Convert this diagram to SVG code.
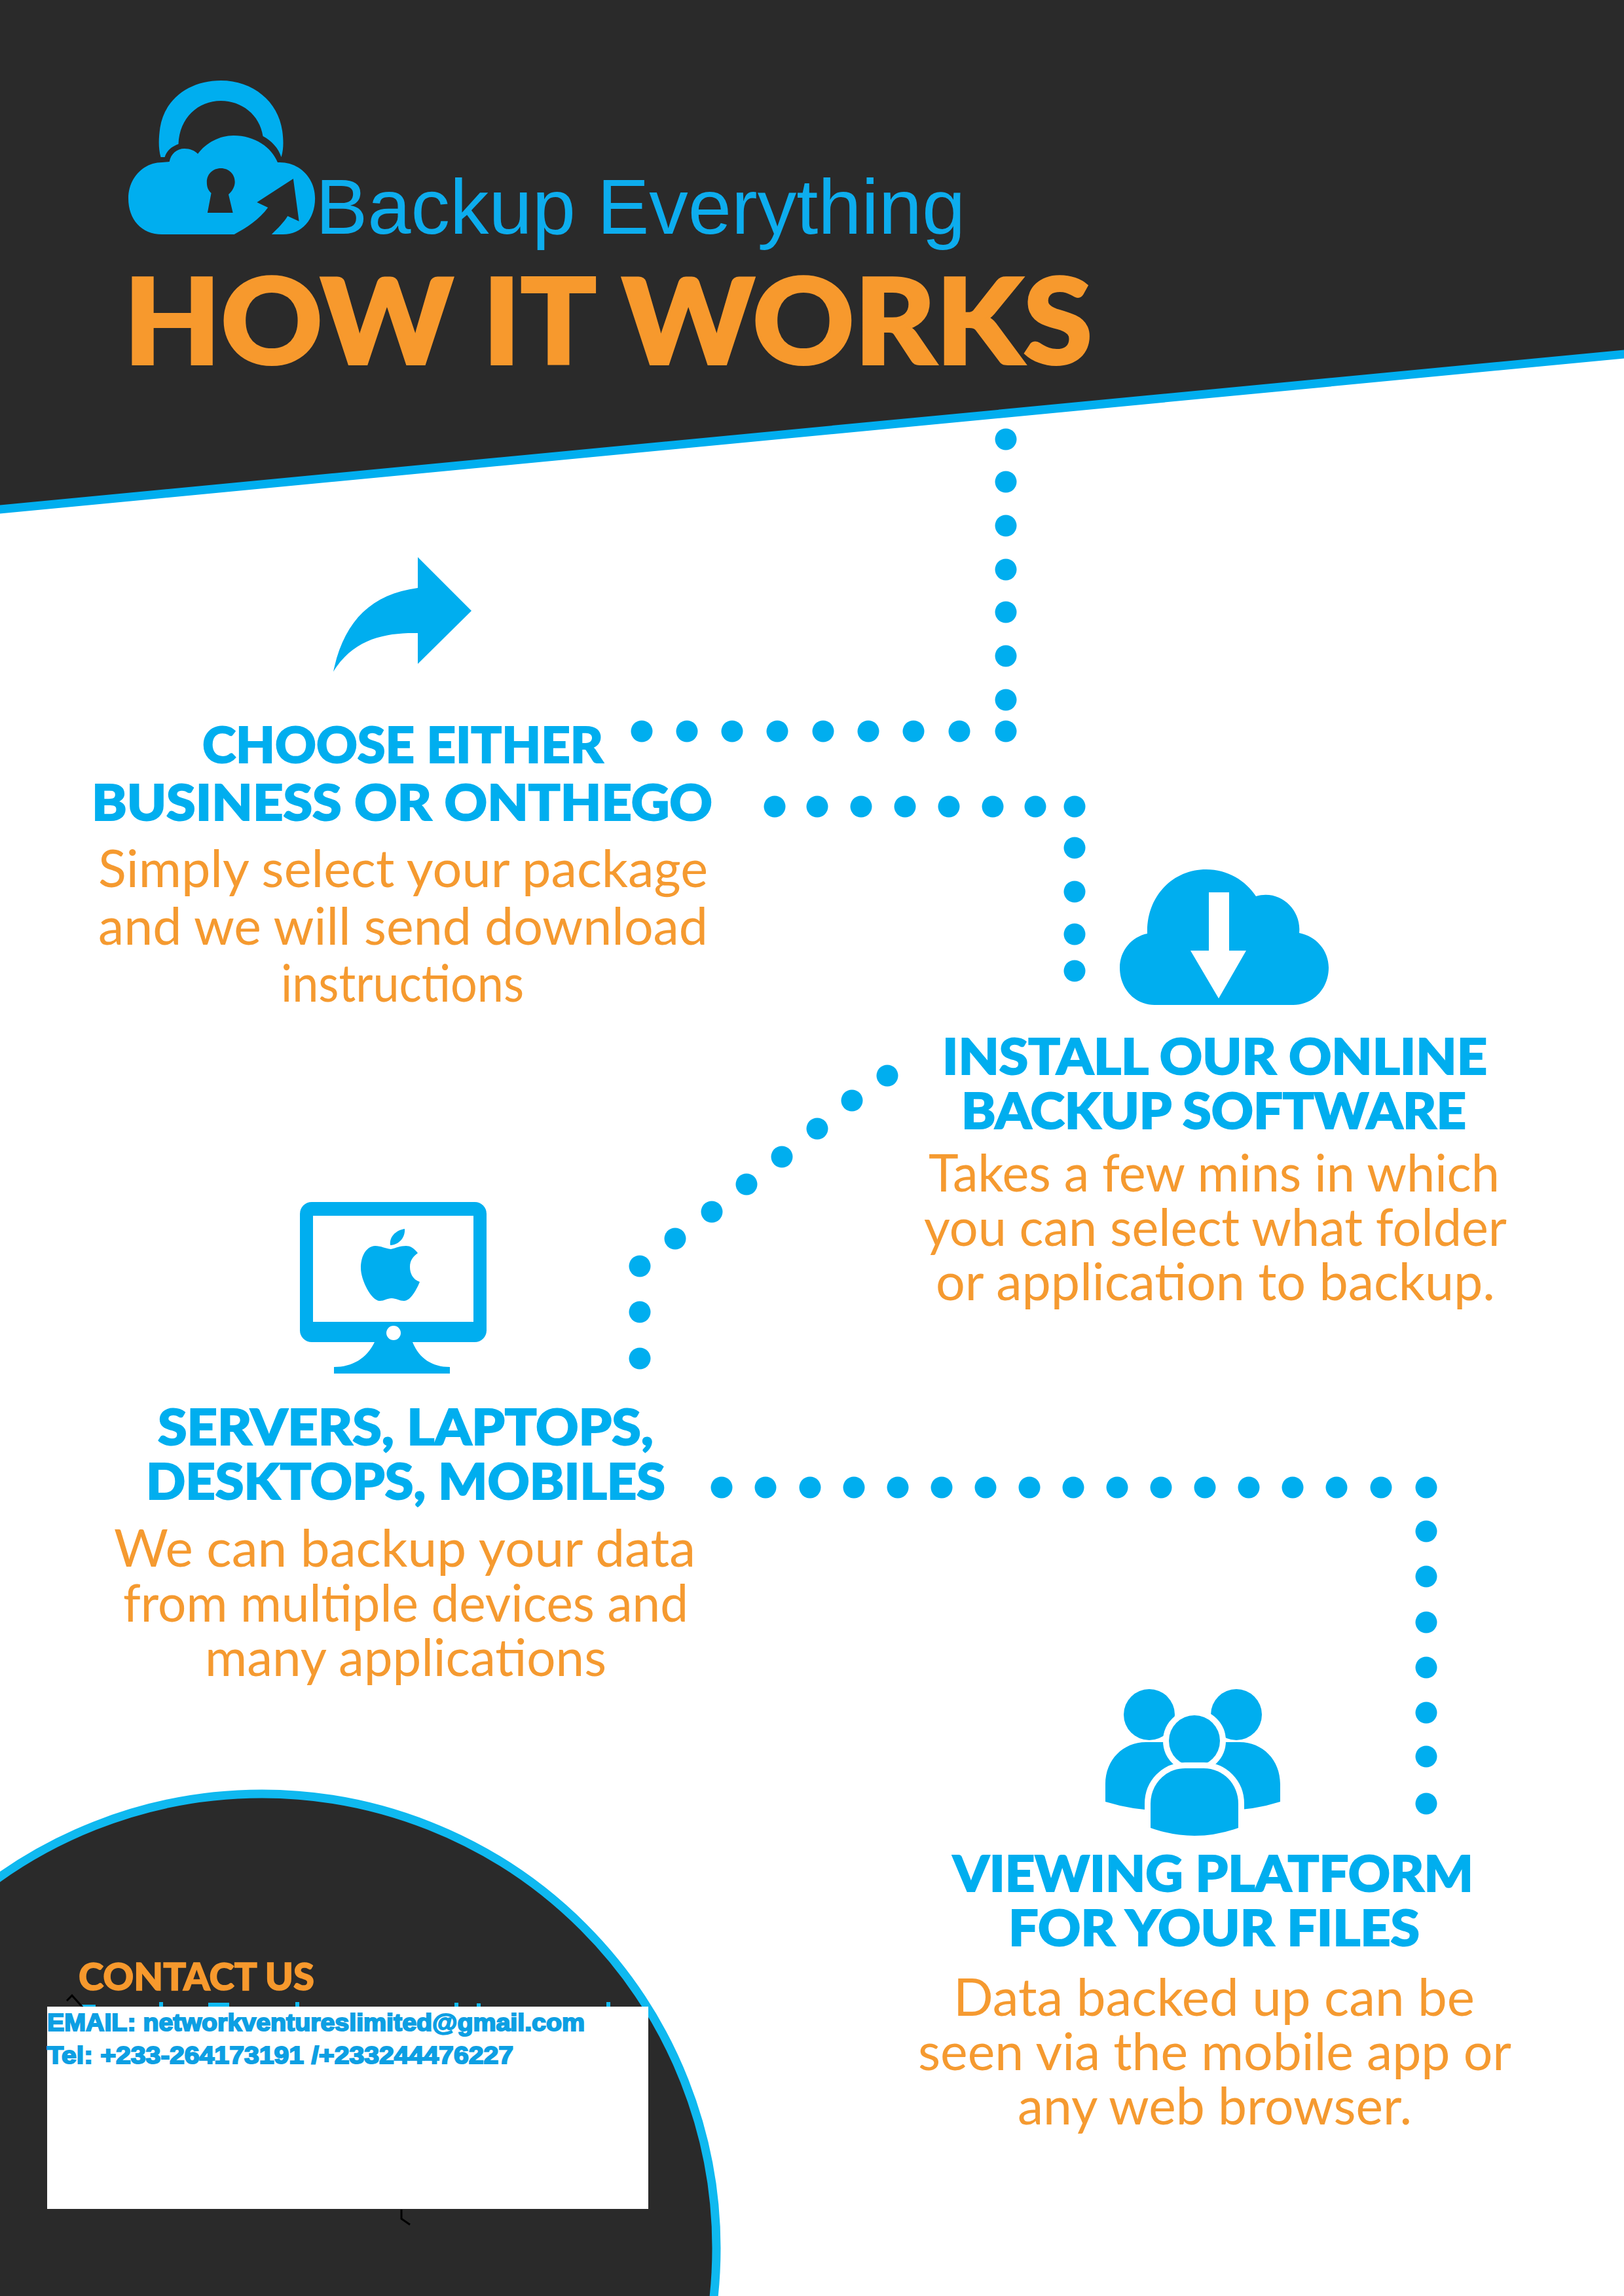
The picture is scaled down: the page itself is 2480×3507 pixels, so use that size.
<svg xmlns="http://www.w3.org/2000/svg" width="2480" height="3507" viewBox="0 0 2480 3507">
<style>
.b{fill:#00aeef}
.d{fill:#2a2a2a}
.w{fill:#fff}
.dot{fill:#00aeef}
.h{font-family:"Lato","Liberation Sans",sans-serif;font-weight:900;font-size:77px;fill:#00aeef;stroke:#00aeef;stroke-width:2}
.t{font-family:"Lato","Liberation Sans",sans-serif;font-weight:400;font-size:80px;fill:#f59a30}
.c{font-family:"Liberation Sans",Arial,sans-serif;font-weight:700;font-size:36px;fill:#0d9fe3;stroke:#0d9fe3;stroke-width:2}
.k{fill:none;stroke:#000;stroke-width:3}
</style>
<rect width="2480" height="3507" fill="#fff"/>
<g id="header-band">
<polygon class="d" points="0,0 2480,0 2480,541 0,778"/>
<line x1="-5" y1="778.5" x2="2485" y2="540.5" stroke="#00aeef" stroke-width="13"/>
</g>
<g id="logo">
<g transform="translate(196 0) scale(1.02 1) translate(-195.5 0)">
<path class="b" d="M244 240C240 225 241 210 243 195C250 150 288 123 334 123C382 123 420 155 426 200C428 215 428 228 424.500 240C420 226 410 215 397 208C392 175 365 154 334 154C300 154 272 180 270.500 220C260 224 253 230 250 240Z"/>
<path class="b" d="M246 358C215 358 195.500 335 195.500 303C195.500 272 218 248 246 248L257 247C259 235 268 227 279.500 227C288 227 295 230 299.500 235C312 218 332 207 353 207C385 207 410 225 419 248L422 248C452 248 475 272 475 303C475 335 455 358 427 358L410 358C420 348 428 340 434 330L451 338L442.400 273L388 309L404.500 317C392 335 372 348 354 358Z"/>
<path class="d" d="M314 325L319.600 295C314 290 313 284 313 278C313 266 322 257 334 257C346 257 355 266 355 278C355 285 351 292 345.500 297L352 325Z"/>
</g>
<text x="482" y="357" style="font-family:'Liberation Sans',Arial,sans-serif;font-size:119px;fill:#0dadee">Backup Everything</text>
</g>
<g id="title">
<text x="189" y="556" textLength="1479" lengthAdjust="spacingAndGlyphs" style="font-family:'Lato','Liberation Sans',sans-serif;font-weight:900;font-size:182px;fill:#f7992d;stroke:#f7992d;stroke-width:4">HOW IT WORKS</text>
</g>
<g id="connectors">
<g class="dot">
<circle cx="1536" cy="671" r="16.500"/><circle cx="1536" cy="736" r="16.500"/><circle cx="1536" cy="803" r="16.500"/><circle cx="1536" cy="870" r="16.500"/><circle cx="1536" cy="935" r="16.500"/><circle cx="1536" cy="1002" r="16.500"/><circle cx="1536" cy="1069" r="16.500"/>
<circle cx="980" cy="1117" r="16.500"/><circle cx="1049" cy="1117" r="16.500"/><circle cx="1118" cy="1117" r="16.500"/><circle cx="1187" cy="1117" r="16.500"/><circle cx="1257" cy="1117" r="16.500"/><circle cx="1326" cy="1117" r="16.500"/><circle cx="1395" cy="1117" r="16.500"/><circle cx="1465" cy="1117" r="16.500"/><circle cx="1536" cy="1117" r="16.500"/>
<circle cx="1183" cy="1232" r="16.500"/><circle cx="1248" cy="1232" r="16.500"/><circle cx="1315" cy="1232" r="16.500"/><circle cx="1382" cy="1232" r="16.500"/><circle cx="1449" cy="1232" r="16.500"/><circle cx="1516" cy="1232" r="16.500"/><circle cx="1581" cy="1232" r="16.500"/><circle cx="1641" cy="1232" r="16.500"/>
<circle cx="1641" cy="1295" r="16.500"/><circle cx="1641" cy="1362" r="16.500"/><circle cx="1641" cy="1427" r="16.500"/><circle cx="1641" cy="1483" r="16.500"/>
<circle cx="1355" cy="1643" r="16.500"/><circle cx="1301" cy="1681" r="16.500"/><circle cx="1248" cy="1724" r="16.500"/><circle cx="1194" cy="1767" r="16.500"/><circle cx="1140" cy="1809" r="16.500"/><circle cx="1087" cy="1851" r="16.500"/><circle cx="1031" cy="1892" r="16.500"/><circle cx="977" cy="1934" r="16.500"/><circle cx="977" cy="2004" r="16.500"/><circle cx="977" cy="2075" r="16.500"/>
<circle cx="1102" cy="2272" r="16.500"/><circle cx="1169" cy="2272" r="16.500"/><circle cx="1237" cy="2272" r="16.500"/><circle cx="1304" cy="2272" r="16.500"/><circle cx="1371" cy="2272" r="16.500"/><circle cx="1438" cy="2272" r="16.500"/><circle cx="1505" cy="2272" r="16.500"/><circle cx="1572" cy="2272" r="16.500"/><circle cx="1639" cy="2272" r="16.500"/><circle cx="1706" cy="2272" r="16.500"/><circle cx="1773" cy="2272" r="16.500"/><circle cx="1840" cy="2272" r="16.500"/><circle cx="1907" cy="2272" r="16.500"/><circle cx="1974" cy="2272" r="16.500"/><circle cx="2041" cy="2272" r="16.500"/><circle cx="2109" cy="2272" r="16.500"/><circle cx="2178" cy="2272" r="16.500"/>
<circle cx="2178" cy="2339" r="16.500"/><circle cx="2178" cy="2408" r="16.500"/><circle cx="2178" cy="2478" r="16.500"/><circle cx="2178" cy="2547" r="16.500"/><circle cx="2178" cy="2616" r="16.500"/><circle cx="2178" cy="2683" r="16.500"/><circle cx="2178" cy="2755" r="16.500"/>
</g>
</g>
<g id="step-choose">
<path class="b" d="M509 1026C525 950 565 908 638 898L638 851L720 933L638 1014L638 967C590 966 540 975 509 1026Z"/>
<text class="h" x="309" y="1165" textLength="612" lengthAdjust="spacingAndGlyphs">CHOOSE EITHER</text>
<text class="h" x="140" y="1253" textLength="948" lengthAdjust="spacingAndGlyphs">BUSINESS OR ONTHEGO</text>
<text class="t" x="150" y="1355" textLength="931" lengthAdjust="spacingAndGlyphs">Simply select your package</text>
<text class="t" x="150" y="1443" textLength="931" lengthAdjust="spacingAndGlyphs">and we will send download</text>
<text class="t" x="429" y="1530" textLength="371" lengthAdjust="spacingAndGlyphs">instructions</text>
</g>
<g id="step-install">
<path class="b" d="M1763 1535C1733 1535 1710 1510 1710 1478C1710 1452 1728 1431 1752 1426C1750 1370 1790 1328 1842 1328C1875 1328 1902 1345 1918 1369C1955 1358 1988 1390 1984 1425C2010 1430 2029 1452 2029 1478C2029 1510 2005 1535 1975 1535Z"/>
<polygon class="w" points="1846,1363 1877,1363 1877,1452 1903,1452 1861,1525 1818,1452 1846,1452"/>
<text class="h" x="1439" y="1641" textLength="832" lengthAdjust="spacingAndGlyphs">INSTALL OUR ONLINE</text>
<text class="h" x="1468" y="1724" textLength="771" lengthAdjust="spacingAndGlyphs">BACKUP SOFTWARE</text>
<text class="t" x="1418" y="1820" textLength="872" lengthAdjust="spacingAndGlyphs">Takes a few mins in which</text>
<text class="t" x="1411" y="1903" textLength="890" lengthAdjust="spacingAndGlyphs">you can select what folder</text>
<text class="t" x="1429" y="1986" textLength="854" lengthAdjust="spacingAndGlyphs">or application to backup.</text>
</g>
<g id="step-devices">
<rect class="b" x="458" y="1836" width="285" height="214" rx="18"/>
<rect class="w" x="478" y="1857" width="245" height="162"/>
<circle class="w" cx="601" cy="2036" r="11"/>
<path class="b" d="M572 2050C560 2075 538 2088 510 2088L510 2098L687 2098L687 2088C660 2088 640 2075 630 2050Z"/>
<path class="b" d="M618 1877C604 1879 594 1890 596 1902C610 1901 619 1890 618 1877Z"/>
<path class="b" d="M597 1908C588 1907 582 1903 573 1903C558 1904 551 1920 551 1937C551 1955 567 1987 580 1987C587 1987 591 1983 598 1983C605 1983 610 1987 617 1987C627 1987 636 1970 641 1958C630 1954 626 1945 626 1935C626 1925 631 1919 638 1914C632 1906 626 1903 620 1903C611 1903 605 1906 597 1908Z"/>
<text class="h" x="241" y="2207" textLength="757" lengthAdjust="spacingAndGlyphs">SERVERS, LAPTOPS,</text>
<text class="h" x="223" y="2290" textLength="793" lengthAdjust="spacingAndGlyphs">DESKTOPS, MOBILES</text>
<text class="t" x="174" y="2393" textLength="888" lengthAdjust="spacingAndGlyphs">We can backup your data</text>
<text class="t" x="188" y="2477" textLength="863" lengthAdjust="spacingAndGlyphs">from multiple devices and</text>
<text class="t" x="313" y="2560" textLength="613" lengthAdjust="spacingAndGlyphs">many applications</text>
</g>
<g id="step-viewing">
<circle class="b" cx="1755" cy="2619" r="39"/>
<circle class="b" cx="1888" cy="2619" r="39"/>
<path class="b" d="M1688 2752V2725C1688 2688 1715 2661 1750 2661H1893C1928 2661 1955 2688 1955 2725V2752Q1905 2768 1850 2765H1790Q1740 2768 1688 2752Z"/>
<circle class="b" cx="1824" cy="2659" r="39" stroke="#fff" stroke-width="18" paint-order="stroke"/>
<path class="b" d="M1757 2792V2755C1757 2725 1780 2701 1810 2701H1838C1868 2701 1891 2725 1891 2755V2792Q1824 2816 1757 2792Z" stroke="#fff" stroke-width="18" paint-order="stroke"/>
<text class="h" x="1455" y="2889" textLength="795" lengthAdjust="spacingAndGlyphs">VIEWING PLATFORM</text>
<text class="h" x="1540" y="2972" textLength="628" lengthAdjust="spacingAndGlyphs">FOR YOUR FILES</text>
<text class="t" x="1456" y="3079" textLength="796" lengthAdjust="spacingAndGlyphs">Data backed up can be</text>
<text class="t" x="1402" y="3162" textLength="906" lengthAdjust="spacingAndGlyphs">seen via the mobile app or</text>
<text class="t" x="1554" y="3245" textLength="602" lengthAdjust="spacingAndGlyphs">any web browser.</text>
</g>
<g id="contact">
<circle class="d" cx="400" cy="3434" r="694" stroke="#0fb9f0" stroke-width="13"/>
<text x="120" y="3040" textLength="360" lengthAdjust="spacingAndGlyphs" style="font-family:'Lato','Liberation Sans',sans-serif;font-weight:900;font-size:58px;fill:#f7992d;stroke:#f7992d;stroke-width:1.500">CONTACT US</text>
<g fill="#0fb9f0">
<rect x="125" y="3062" width="21" height="4"/><rect x="243" y="3058" width="6" height="8"/><rect x="318" y="3059" width="32" height="7"/><rect x="451" y="3058" width="6" height="8"/><rect x="694" y="3059" width="6" height="7"/><rect x="728" y="3060" width="6" height="6"/><rect x="926" y="3058" width="6" height="8"/>
</g>
<path class="k" d="M102 3056L110 3048L128 3068"/>
<path class="k" d="M613 3375V3389L626 3398"/>
<rect class="w" x="72" y="3065" width="918" height="309"/>
<text class="c" x="72" y="3102" textLength="821" lengthAdjust="spacingAndGlyphs">EMAIL: networkventureslimited@gmail.com</text>
<text class="c" x="72" y="3152" textLength="712" lengthAdjust="spacingAndGlyphs">Tel: +233-264173191 /+233244476227</text>
</g>
</svg>
